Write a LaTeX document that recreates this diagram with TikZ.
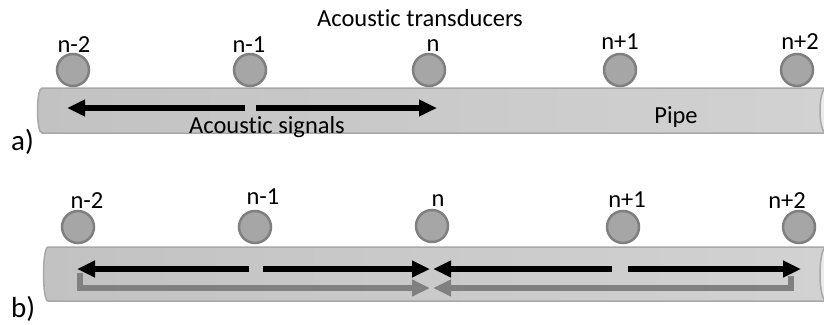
\documentclass[tikz,border=0pt]{standalone}
\usepackage{fontspec}
\setmainfont{Carlito}[Ligatures=NoCommon]
\usetikzlibrary{arrows.meta}
\definecolor{pipeL}{RGB}{194,194,194}
\definecolor{pipeR}{RGB}{210,210,210}
\definecolor{pipeEdge}{RGB}{168,168,168}
\definecolor{pipeFace}{RGB}{236,236,236}
\definecolor{sensorFill}{RGB}{166,166,166}
\definecolor{sensorEdge}{RGB}{128,128,128}
\definecolor{echo}{RGB}{128,128,128}
\begin{document}
\begin{tikzpicture}[x=1pt,y=-1pt,
  pipebody/.style={left color=pipeL,right color=pipeR,draw=pipeEdge,line width=1.5pt},
  pipeend/.style={fill=pipeFace,draw=pipeEdge,line width=1.5pt},
  sensor/.style={circle,fill=sensorFill,draw=sensorEdge,line width=2.5pt,minimum size=32pt,inner sep=0pt},
  lbl/.style={anchor=base,inner sep=0pt,font=\fontsize{24.5}{29}\selectfont},
  part/.style={anchor=base west,inner sep=0pt,font=\fontsize{29}{34}\selectfont},
  signal/.style={line width=6pt,-{Triangle[length=18pt,width=16pt]}},
  echoline/.style={signal,draw=echo,line join=miter}]
\useasboundingbox (0,0) rectangle (824,324);
\begin{scope}
\clip (0,0) rectangle (824,324);

% ---------- a) ----------
\node[lbl] (title) at (420,27) {Acoustic transducers};
\path[pipebody] (830,88) -- (42,88) .. controls (36,88) and (36,133) .. (42,133) -- (830,133) -- cycle;
\path[pipeend] (826,110.5) ellipse (6 and 22.5);

\node[sensor] (a1) at (73,70) {};
\node[sensor] (a2) at (250,70) {};
\node[sensor] (a3) at (429,70) {};
\node[sensor] (a4) at (620,70) {};
\node[sensor] (a5) at (797,70) {};
\node[lbl] (la1) at (74,52) {n-2};
\node[lbl] (la2) at (249,52) {n-1};
\node[lbl] (la3) at (433,51) {n};
\node[lbl] (la4) at (620,49) {n+1};
\node[lbl] (la5) at (800,49) {n+2};

\coordinate (sa0) at (245,108);
\coordinate (sa1) at (67,108);
\coordinate (sa2) at (256,108);
\coordinate (sa3) at (437,108);
\draw[signal] (sa0) -- (sa1);
\draw[signal] (sa2) -- (sa3);
\node[lbl] (sig) at (267,133) {Acoustic signals};
\node[lbl] (pipe) at (676,123) {Pipe};
\node[part] (pa) at (11,150) {a)};

% ---------- b) ----------
\path[pipebody] (830,247) -- (48,247) .. controls (42,247) and (42,301) .. (48,301) -- (830,301) -- cycle;
\path[pipeend] (826,274) ellipse (6 and 27);

\node[sensor] (b1) at (78,227) {};
\node[sensor] (b2) at (255,227) {};
\node[sensor] (b3) at (432,226) {};
\node[sensor] (b4) at (623,227) {};
\node[sensor] (b5) at (799,227) {};
\node[lbl] (lb1) at (87,208) {n-2};
\node[lbl] (lb2) at (263,204) {n-1};
\node[lbl] (lb3) at (438,206) {n};
\node[lbl] (lb4) at (627,207) {n+1};
\node[lbl] (lb5) at (787,208) {n+2};

\coordinate (sb0) at (249,269);
\coordinate (sb1) at (77,269);
\coordinate (sb2) at (263,269);
\coordinate (sb3) at (430,269);
\coordinate (sb4) at (612,269);
\coordinate (sb5) at (433,269);
\coordinate (sb6) at (628,269);
\coordinate (sb7) at (801,269);
\coordinate (eb0) at (80,273);
\coordinate (eb1) at (430,288);
\coordinate (eb2) at (791,276);
\coordinate (eb3) at (433,288);
\draw[echoline] (eb0) |- (eb1);
\draw[echoline] (eb2) |- (eb3);
\draw[signal] (sb0) -- (sb1);
\draw[signal] (sb2) -- (sb3);
\draw[signal] (sb4) -- (sb5);
\draw[signal] (sb6) -- (sb7);
\node[part] (pb) at (11,317) {b)};
\end{scope}
\end{tikzpicture}
\end{document}
